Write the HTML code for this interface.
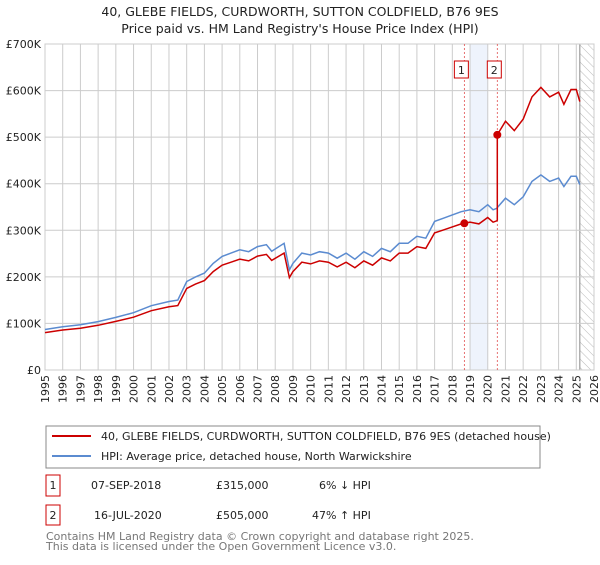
<!DOCTYPE html>
<html><head><meta charset="utf-8"><style>
body{margin:0;background:#fff;font-family:"Liberation Sans","DejaVu Sans",sans-serif;}
svg text{font-family:"DejaVu Sans","Liberation Sans",sans-serif;}
</style></head><body>
<svg id="chart" width="600" height="560" viewBox="0 0 600 560" xmlns="http://www.w3.org/2000/svg">
<defs><pattern id="hatch" width="6" height="6" patternUnits="userSpaceOnUse" patternTransform="rotate(-45)"><line x1="0" y1="0" x2="0" y2="6" stroke="#bbb" stroke-width="1"/></pattern></defs>
<text x="300" y="16" text-anchor="middle" font-size="12.5" fill="#222">40, GLEBE FIELDS, CURDWORTH, SUTTON COLDFIELD, B76 9ES</text>
<text x="300" y="33" text-anchor="middle" font-size="12.5" fill="#222">Price paid vs. HM Land Registry's House Price Index (HPI)</text>
<g id="grid"></g>
<g id="marks"></g>
<g id="axes"></g>
<rect x="46" y="426" width="494" height="42" fill="#fff" stroke="#888"/>
<line x1="52" y1="436" x2="91" y2="436" stroke="#cc0000" stroke-width="2"/>
<text x="101" y="440" font-size="11" fill="#222">40, GLEBE FIELDS, CURDWORTH, SUTTON COLDFIELD, B76 9ES (detached house)</text>
<line x1="52" y1="456" x2="91" y2="456" stroke="#5b8bd0" stroke-width="2"/>
<text x="101" y="460" font-size="11" fill="#222">HPI: Average price, detached house, North Warwickshire</text>
<g font-size="11" fill="#222">
<rect x="46" y="475" width="14" height="21" fill="#fff" stroke="#cc0000"/><text x="53" y="489" text-anchor="middle">1</text>
<text x="91" y="489">07-SEP-2018</text><text x="216" y="489">£315,000</text><text x="319" y="489">6% ↓ HPI</text></g>
<g font-size="11" fill="#222">
<rect x="46" y="505" width="14" height="20" fill="#fff" stroke="#cc0000"/><text x="53" y="519" text-anchor="middle">2</text>
<text x="94" y="519">16-JUL-2020</text><text x="216" y="519">£505,000</text><text x="312" y="519">47% ↑ HPI</text></g>
<text x="46" y="540" font-size="11" fill="#777">Contains HM Land Registry data © Crown copyright and database right 2025.</text>
<text x="46" y="550" font-size="11" fill="#777">This data is licensed under the Open Government Licence v3.0.</text>
</svg>
<script>
const hpiDates=[1995,1996,1997,1998,1999,2000,2001,2002,2002.5,2003,2003.5,2004,2004.5,2005,2005.5,2006,2006.5,2007,2007.5,2007.8,2008.5,2008.8,2009,2009.5,2010,2010.5,2011,2011.5,2012,2012.5,2013,2013.5,2014,2014.5,2015,2015.5,2016,2016.5,2017,2017.5,2018,2018.5,2019,2019.5,2020,2020.3,2020.5,2021,2021.5,2022,2022.5,2023,2023.5,2024,2024.3,2024.7,2025,2025.2];
const hpiValues=[87,93,97,104,113,123,138,147,150,190,200,208,229,244,251,258,254,265,269,255,272,215,229,251,247,254,251,240,251,238,254,244,261,254,272,272,287,283,319,326,333,340,344,340,355,344,347,369,355,372,405,419,405,412,394,416,416,398];
const saleDates=[2018.68,2020.54];
const salePrices=[315,505];
const saleLabels=["1","2"];
const yTicks=[0,100,200,300,400,500,600,700];
const yTickLabels=["£0","£100K","£200K","£300K","£400K","£500K","£600K","£700K"];
const xTicks=[1995,1996,1997,1998,1999,2000,2001,2002,2003,2004,2005,2006,2007,2008,2009,2010,2011,2012,2013,2014,2015,2016,2017,2018,2019,2020,2021,2022,2023,2024,2025,2026];
const shadeRange=[2019,2020];
const forecastStart=2025.2;

const X0=45,X1=594,Y0=370,Y1=44;
const xs=d=>X0+(d-1995)/(2026-1995)*(X1-X0);
const ys=v=>Y0-v/700*(Y0-Y1);
const NS="http://www.w3.org/2000/svg";
function mk(tag,attrs,parent){const e=document.createElementNS(NS,tag);for(const k in attrs)e.setAttribute(k,attrs[k]);parent.appendChild(e);return e;}
const grid=document.getElementById('grid'),marks=document.getElementById('marks'),axes=document.getElementById('axes');
function hpiAt(d){for(let i=0;i<hpiDates.length-1;i++){if(d>=hpiDates[i]&&d<=hpiDates[i+1]){const t=(d-hpiDates[i])/(hpiDates[i+1]-hpiDates[i]);return hpiValues[i]+t*(hpiValues[i+1]-hpiValues[i]);}}return hpiValues[hpiValues.length-1];}

let sh=mk('rect',{x:xs(shadeRange[0]),y:Y1,width:xs(shadeRange[1])-xs(shadeRange[0]),height:Y0-Y1,fill:'#eef3fc'},grid);


let hz=mk('rect',{x:xs(forecastStart),y:Y1,width:X1-xs(forecastStart),height:Y0-Y1,fill:'url(#hatch)'},grid);


mk('line',{x1:xs(forecastStart),y1:Y1,x2:xs(forecastStart),y2:Y0,stroke:'#888','stroke-width':1},grid);
xTicks.forEach((t,i)=>{
 mk('line',{x1:xs(t),y1:Y1,x2:xs(t),y2:Y0,stroke:'#ccc','stroke-width':1},grid);
 const tx=mk('text',{x:0,y:0,'font-size':11,fill:'#222','text-anchor':'end',transform:`translate(${xs(t)+4},${Y0+5}) rotate(-90)`},axes);
 tx.textContent=t;
 
 
});
yTicks.forEach((t,i)=>{
 mk('line',{x1:X0,y1:ys(t),x2:X1,y2:ys(t),stroke:'#ccc','stroke-width':1},grid);
 const tx=mk('text',{x:X0-4,y:ys(t)+4,'font-size':11,fill:'#222','text-anchor':'end'},axes);
 tx.textContent=yTickLabels[i];
 
 
});
mk('rect',{x:X0,y:Y1,width:X1-X0,height:Y0-Y1,fill:'none',stroke:'#ccc'},grid);

saleDates.forEach((d,i)=>{
 const l=mk('line',{x1:xs(d),y1:Y1,x2:xs(d),y2:Y0,stroke:'#e05050','stroke-width':0.8,'stroke-dasharray':'2,2'},marks);
 
 
 const b=mk('rect',{x:xs(d)-10,y:61,width:14,height:17,fill:'#fff',stroke:'#cc0000'},marks);
 
 
 const t=mk('text',{x:xs(d)-3,y:74,'font-size':11,fill:'#222','text-anchor':'middle'},marks);
 t.textContent=saleLabels[i];
});

let p='';hpiDates.forEach((d,i)=>{p+=(i?'L':'M')+xs(d).toFixed(1)+','+ys(hpiValues[i]).toFixed(1);});
const hl=mk('path',{d:p,fill:'none',stroke:'#5b8bd0','stroke-width':1.5},marks);


const r1=salePrices[0]/hpiAt(saleDates[0]),r2=salePrices[1]/hpiAt(saleDates[1]);
let pts=[];
hpiDates.forEach((d,i)=>{if(d<saleDates[1])pts.push([d,hpiValues[i]*r1]);});
pts.push([saleDates[1],hpiAt(saleDates[1])*r1]);
pts.push([saleDates[1],salePrices[1]]);
hpiDates.forEach((d,i)=>{if(d>saleDates[1])pts.push([d,hpiValues[i]*r2]);});
pts.sort((a,b)=>a[0]-b[0]);
let q='';pts.forEach((pt,i)=>{q+=(i?'L':'M')+xs(pt[0]).toFixed(1)+','+ys(pt[1]).toFixed(1);});
const pl=mk('path',{d:q,fill:'none',stroke:'#cc0000','stroke-width':1.5},marks);


saleDates.forEach((d,i)=>{
 const c=mk('circle',{cx:xs(d),cy:ys(salePrices[i]),r:4,fill:'#cc0000'},marks);
 
 
});
</script>
</body></html>
